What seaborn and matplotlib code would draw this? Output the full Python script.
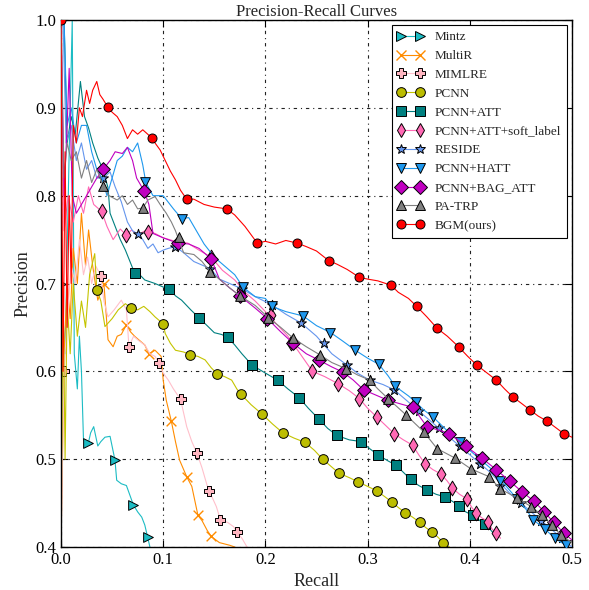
import numpy as np
import pandas as pd
import matplotlib
matplotlib.use("Agg")
import matplotlib.pyplot as plt
from matplotlib.lines import Line2D
import seaborn as sns

# curve data (recall, precision)
mintz_r = [0.0, 0.004, 0.008, 0.011, 0.013, 0.016, 0.018, 0.02, 0.022, 0.0267, 0.029, 0.032, 0.036, 0.039, 0.043, 0.048, 0.0528, 0.0545, 0.059, 0.064, 0.0708, 0.075, 0.079, 0.082, 0.0848, 0.087]
mintz_p = [0.70, 0.62, 0.85, 1.0, 0.62, 0.58, 0.64, 0.60, 0.522, 0.518, 0.53, 0.537, 0.515, 0.52, 0.525, 0.526, 0.499, 0.476, 0.472, 0.47, 0.448, 0.44, 0.434, 0.425, 0.411, 0.40]
mintz_mr = [0.0, 0.0267, 0.0528, 0.0708, 0.0848]
mintz_mp = [0.70, 0.518, 0.499, 0.448, 0.411]

multir_r = [0.0, 0.003, 0.006, 0.009, 0.012, 0.016, 0.02, 0.024, 0.027, 0.031, 0.036, 0.042, 0.046, 0.051, 0.055, 0.059, 0.064, 0.068, 0.072, 0.077, 0.082, 0.086, 0.092, 0.098, 0.1, 0.103, 0.108, 0.112, 0.116, 0.123, 0.128, 0.134, 0.138, 0.143, 0.147, 0.155, 0.165, 0.17]
multir_p = [0.40, 0.62, 0.70, 0.66, 0.74, 0.70, 0.78, 0.72, 0.761, 0.72, 0.681, 0.70, 0.636, 0.628, 0.64, 0.642, 0.653, 0.645, 0.64, 0.635, 0.63, 0.62, 0.624, 0.617, 0.59, 0.567, 0.543, 0.52, 0.499, 0.48, 0.469, 0.436, 0.43, 0.419, 0.412, 0.405, 0.402, 0.40]
multir_mr = [0.042, 0.064, 0.086, 0.108, 0.123, 0.134, 0.147]
multir_mp = [0.70, 0.653, 0.62, 0.543, 0.48, 0.436, 0.412]

mimlre_r = [0.0, 0.003, 0.006, 0.01, 0.014, 0.018, 0.022, 0.026, 0.03, 0.034, 0.0388, 0.042, 0.046, 0.052, 0.059, 0.064, 0.0665, 0.071, 0.076, 0.082, 0.087, 0.092, 0.096, 0.1, 0.105, 0.11, 0.117, 0.123, 0.128, 0.133, 0.138, 0.143, 0.145, 0.152, 0.156, 0.163, 0.169, 0.172, 0.177, 0.182]
mimlre_p = [0.40, 0.60, 0.66, 0.72, 0.70, 0.75, 0.71, 0.73, 0.70, 0.72, 0.709, 0.68, 0.662, 0.67, 0.681, 0.67, 0.628, 0.64, 0.635, 0.63, 0.62, 0.617, 0.609, 0.598, 0.59, 0.58, 0.568, 0.537, 0.52, 0.507, 0.49, 0.47, 0.464, 0.446, 0.431, 0.428, 0.423, 0.417, 0.41, 0.40]
mimlre_mr = [0.003, 0.0388, 0.0665, 0.096, 0.117, 0.133, 0.145, 0.156, 0.172]
mimlre_mp = [0.60, 0.709, 0.628, 0.609, 0.568, 0.507, 0.464, 0.431, 0.417]

pcnn_r = [0.0, 0.002, 0.004, 0.006, 0.009, 0.012, 0.016, 0.02, 0.024, 0.028, 0.033, 0.035, 0.039, 0.043, 0.05, 0.056, 0.063, 0.0685, 0.075, 0.081, 0.087, 0.092, 0.1, 0.102, 0.107, 0.112, 0.12, 0.126, 0.134, 0.141, 0.147, 0.153, 0.16, 0.167, 0.172, 0.176, 0.186, 0.197, 0.207, 0.217, 0.228, 0.239, 0.248, 0.256, 0.264, 0.272, 0.282, 0.291, 0.3, 0.309, 0.316, 0.324, 0.33, 0.337, 0.344, 0.351, 0.357, 0.363, 0.369, 0.374, 0.38]
pcnn_p = [0.40, 0.70, 0.50, 0.68, 0.62, 0.70, 0.64, 0.68, 0.65, 0.71, 0.734, 0.693, 0.68, 0.651, 0.66, 0.67, 0.677, 0.672, 0.67, 0.674, 0.668, 0.662, 0.654, 0.643, 0.632, 0.624, 0.622, 0.619, 0.617, 0.613, 0.604, 0.597, 0.594, 0.59, 0.58, 0.574, 0.562, 0.551, 0.54, 0.53, 0.524, 0.519, 0.51, 0.50, 0.492, 0.484, 0.479, 0.474, 0.469, 0.464, 0.458, 0.451, 0.445, 0.439, 0.434, 0.428, 0.422, 0.417, 0.411, 0.405, 0.40]
pcnn_mr = [0.035, 0.0685, 0.1, 0.126, 0.153, 0.176, 0.197, 0.217, 0.239, 0.256, 0.272, 0.291, 0.309, 0.324, 0.337, 0.351, 0.363, 0.374]
pcnn_mp = [0.693, 0.672, 0.654, 0.619, 0.597, 0.574, 0.551, 0.53, 0.519, 0.50, 0.484, 0.474, 0.464, 0.451, 0.439, 0.428, 0.417, 0.405]

att_r = [0.003, 0.006, 0.01, 0.014, 0.019, 0.023, 0.027, 0.031, 0.036, 0.041, 0.046, 0.048, 0.053, 0.058, 0.063, 0.072, 0.077, 0.082, 0.092, 0.1, 0.106, 0.112, 0.118, 0.127, 0.135, 0.143, 0.15, 0.157, 0.163, 0.17, 0.177, 0.187, 0.2, 0.212, 0.222, 0.233, 0.242, 0.252, 0.261, 0.27, 0.282, 0.294, 0.302, 0.31, 0.32, 0.328, 0.335, 0.342, 0.35, 0.358, 0.367, 0.376, 0.383, 0.389, 0.396, 0.403, 0.41, 0.415, 0.42, 0.425]
att_p = [1.0, 0.86, 0.89, 0.87, 0.93, 0.89, 0.877, 0.86, 0.843, 0.83, 0.809, 0.78, 0.765, 0.75, 0.738, 0.712, 0.71, 0.704, 0.70, 0.696, 0.694, 0.686, 0.681, 0.67, 0.661, 0.652, 0.644, 0.642, 0.639, 0.63, 0.62, 0.607, 0.598, 0.59, 0.58, 0.57, 0.558, 0.546, 0.535, 0.527, 0.522, 0.52, 0.512, 0.505, 0.498, 0.493, 0.485, 0.477, 0.47, 0.465, 0.46, 0.457, 0.452, 0.447, 0.44, 0.436, 0.43, 0.426, 0.42, 0.413]
att_mr = [0.0724, 0.106, 0.135, 0.163, 0.187, 0.212, 0.233, 0.252, 0.27, 0.294, 0.31, 0.328, 0.342, 0.358, 0.376, 0.389, 0.403, 0.415]
att_mp = [0.712, 0.694, 0.661, 0.639, 0.607, 0.59, 0.57, 0.546, 0.527, 0.52, 0.505, 0.493, 0.477, 0.465, 0.457, 0.447, 0.436, 0.426]

soft_r = [0.0, 0.003, 0.007, 0.012, 0.017, 0.022, 0.027, 0.032, 0.0398, 0.045, 0.051, 0.058, 0.064, 0.069, 0.075, 0.082, 0.092, 0.1, 0.112, 0.124, 0.135, 0.147, 0.158, 0.17, 0.18, 0.19, 0.2, 0.21, 0.222, 0.234, 0.246, 0.258, 0.271, 0.282, 0.292, 0.3, 0.309, 0.318, 0.326, 0.335, 0.344, 0.35, 0.356, 0.364, 0.372, 0.378, 0.383, 0.39, 0.397, 0.402, 0.406, 0.412, 0.418, 0.422, 0.426, 0.43]
soft_p = [1.0, 0.76, 0.80, 0.77, 0.80, 0.78, 0.81, 0.79, 0.782, 0.765, 0.75, 0.762, 0.755, 0.761, 0.755, 0.76, 0.757, 0.752, 0.748, 0.746, 0.738, 0.73, 0.715, 0.704, 0.69, 0.68, 0.668, 0.655, 0.64, 0.62, 0.60, 0.594, 0.586, 0.578, 0.569, 0.558, 0.548, 0.538, 0.529, 0.522, 0.516, 0.505, 0.495, 0.488, 0.483, 0.475, 0.467, 0.46, 0.455, 0.445, 0.439, 0.433, 0.429, 0.42, 0.416, 0.41]
soft_mr = [0.0398, 0.064, 0.085, 0.147, 0.176, 0.205, 0.225, 0.246, 0.271, 0.292, 0.309, 0.326, 0.344, 0.356, 0.372, 0.383, 0.397, 0.406, 0.418, 0.426]
soft_mp = [0.782, 0.755, 0.759, 0.73, 0.693, 0.664, 0.632, 0.60, 0.586, 0.569, 0.548, 0.529, 0.516, 0.495, 0.483, 0.467, 0.455, 0.439, 0.429, 0.416]

reside_r = [0.002, 0.005, 0.01, 0.015, 0.02, 0.025, 0.03, 0.035, 0.0414, 0.048, 0.053, 0.059, 0.065, 0.07, 0.0757, 0.08, 0.085, 0.09, 0.095, 0.1, 0.105, 0.112, 0.12, 0.13, 0.146, 0.155, 0.165, 0.177, 0.19, 0.206, 0.22, 0.235, 0.25, 0.265, 0.28, 0.29, 0.302, 0.315, 0.326, 0.34, 0.36, 0.38, 0.4, 0.42, 0.44, 0.46, 0.48, 0.5]
reside_p = [1.0, 0.86, 0.88, 0.84, 0.86, 0.83, 0.84, 0.82, 0.82, 0.827, 0.81, 0.793, 0.77, 0.76, 0.756, 0.75, 0.74, 0.745, 0.735, 0.738, 0.74, 0.742, 0.735, 0.725, 0.717, 0.705, 0.70, 0.694, 0.685, 0.676, 0.665, 0.655, 0.64, 0.62, 0.607, 0.598, 0.59, 0.585, 0.579, 0.565, 0.545, 0.525, 0.505, 0.485, 0.46, 0.44, 0.42, 0.40]
reside_mr = [0.0414, 0.0757, 0.112, 0.146, 0.177, 0.206, 0.235, 0.257, 0.28, 0.302, 0.326, 0.35, 0.37, 0.39, 0.41, 0.43, 0.45, 0.47, 0.49]
reside_mp = [0.82, 0.756, 0.742, 0.717, 0.694, 0.676, 0.655, 0.632, 0.607, 0.59, 0.579, 0.555, 0.535, 0.515, 0.495, 0.47, 0.45, 0.43, 0.41]

hatt_r = [0.003, 0.006, 0.01, 0.015, 0.02, 0.025, 0.03, 0.035, 0.04, 0.045, 0.05, 0.055, 0.06, 0.065, 0.07, 0.075, 0.08, 0.083, 0.09, 0.1, 0.11, 0.118, 0.125, 0.13, 0.14, 0.15, 0.16, 0.17, 0.178, 0.19, 0.2, 0.206, 0.22, 0.237, 0.25, 0.264, 0.275, 0.288, 0.3, 0.311, 0.32, 0.327, 0.34, 0.347, 0.355, 0.364, 0.38, 0.4, 0.42, 0.435, 0.446, 0.455, 0.462, 0.474, 0.483, 0.494, 0.5]
hatt_p = [1.0, 0.88, 0.90, 0.86, 0.88, 0.88, 0.85, 0.83, 0.82, 0.80, 0.82, 0.84, 0.845, 0.855, 0.85, 0.86, 0.835, 0.815, 0.80, 0.80, 0.785, 0.774, 0.775, 0.765, 0.745, 0.73, 0.72, 0.71, 0.696, 0.685, 0.683, 0.674, 0.668, 0.663, 0.652, 0.644, 0.635, 0.624, 0.615, 0.608, 0.595, 0.583, 0.572, 0.565, 0.556, 0.548, 0.53, 0.51, 0.49, 0.47, 0.455, 0.443, 0.431, 0.42, 0.41, 0.402, 0.395]
hatt_mr = [0.0825, 0.118, 0.178, 0.206, 0.237, 0.263, 0.288, 0.311, 0.327, 0.347, 0.364, 0.39, 0.41, 0.43, 0.446, 0.462, 0.474, 0.483, 0.494]
hatt_mp = [0.815, 0.774, 0.696, 0.674, 0.663, 0.644, 0.624, 0.608, 0.583, 0.565, 0.548, 0.52, 0.50, 0.475, 0.455, 0.431, 0.42, 0.41, 0.402]

bag_r = [0.0, 0.003, 0.006, 0.008, 0.011, 0.015, 0.02, 0.025, 0.03, 0.035, 0.0414, 0.048, 0.053, 0.06, 0.065, 0.07, 0.074, 0.0815, 0.086, 0.09, 0.1, 0.114, 0.125, 0.135, 0.147, 0.155, 0.165, 0.175, 0.19, 0.202, 0.215, 0.227, 0.24, 0.252, 0.265, 0.276, 0.286, 0.296, 0.31, 0.32, 0.332, 0.344, 0.35, 0.358, 0.37, 0.38, 0.396, 0.412, 0.426, 0.439, 0.451, 0.463, 0.473, 0.482, 0.492, 0.5]
bag_p = [1.0, 0.80, 0.88, 0.945, 0.80, 0.78, 0.79, 0.80, 0.81, 0.82, 0.83, 0.84, 0.85, 0.848, 0.855, 0.84, 0.82, 0.805, 0.79, 0.757, 0.752, 0.746, 0.745, 0.74, 0.728, 0.705, 0.695, 0.686, 0.672, 0.66, 0.645, 0.632, 0.62, 0.613, 0.605, 0.599, 0.59, 0.579, 0.572, 0.567, 0.563, 0.559, 0.55, 0.537, 0.533, 0.529, 0.515, 0.501, 0.488, 0.475, 0.463, 0.452, 0.44, 0.428, 0.416, 0.408]
bag_mr = [0.0414, 0.0815, 0.114, 0.147, 0.175, 0.202, 0.227, 0.252, 0.276, 0.296, 0.32, 0.344, 0.358, 0.38, 0.396, 0.412, 0.426, 0.439, 0.451, 0.463, 0.473, 0.482, 0.492]
bag_mp = [0.83, 0.805, 0.746, 0.728, 0.686, 0.66, 0.632, 0.613, 0.599, 0.579, 0.567, 0.559, 0.537, 0.529, 0.515, 0.501, 0.488, 0.475, 0.463, 0.452, 0.44, 0.428, 0.416]

trp_r = [0.0, 0.003, 0.006, 0.01, 0.015, 0.02, 0.025, 0.03, 0.035, 0.0414, 0.047, 0.055, 0.06, 0.065, 0.07, 0.075, 0.08, 0.085, 0.092, 0.097, 0.103, 0.108, 0.112, 0.12, 0.13, 0.138, 0.146, 0.155, 0.165, 0.175, 0.19, 0.203, 0.215, 0.227, 0.24, 0.253, 0.265, 0.279, 0.29, 0.302, 0.31, 0.32, 0.338, 0.355, 0.368, 0.386, 0.401, 0.419, 0.43, 0.446, 0.46, 0.471, 0.48, 0.489, 0.5]
trp_p = [1.0, 0.82, 0.86, 0.84, 0.85, 0.82, 0.84, 0.815, 0.83, 0.811, 0.80, 0.795, 0.80, 0.79, 0.795, 0.785, 0.786, 0.795, 0.799, 0.79, 0.78, 0.77, 0.76, 0.735, 0.733, 0.725, 0.713, 0.705, 0.695, 0.686, 0.675, 0.661, 0.65, 0.638, 0.628, 0.619, 0.61, 0.603, 0.596, 0.59, 0.58, 0.569, 0.55, 0.531, 0.512, 0.501, 0.489, 0.48, 0.466, 0.456, 0.446, 0.436, 0.425, 0.414, 0.405]
trp_mr = [0.0414, 0.08, 0.115, 0.146, 0.175, 0.203, 0.227, 0.253, 0.279, 0.302, 0.32, 0.338, 0.355, 0.368, 0.386, 0.401, 0.419, 0.43, 0.446, 0.46, 0.471, 0.48, 0.489]
trp_mp = [0.811, 0.786, 0.753, 0.713, 0.686, 0.661, 0.638, 0.619, 0.603, 0.59, 0.569, 0.55, 0.531, 0.512, 0.501, 0.489, 0.48, 0.466, 0.456, 0.446, 0.436, 0.425, 0.414]

bgm_r = [0.0, 0.002, 0.004, 0.006, 0.008, 0.01, 0.012, 0.015, 0.018, 0.021, 0.025, 0.028, 0.031, 0.035, 0.038, 0.041, 0.0457, 0.05, 0.055, 0.06, 0.065, 0.07, 0.075, 0.08, 0.0887, 0.092, 0.097, 0.102, 0.107, 0.112, 0.117, 0.123, 0.13, 0.14, 0.15, 0.162, 0.17, 0.18, 0.192, 0.2, 0.21, 0.22, 0.231, 0.24, 0.25, 0.262, 0.27, 0.28, 0.292, 0.3, 0.31, 0.323, 0.33, 0.34, 0.348, 0.358, 0.368, 0.378, 0.389, 0.398, 0.407, 0.417, 0.426, 0.434, 0.442, 0.45, 0.459, 0.467, 0.476, 0.484, 0.492, 0.5]
bgm_p = [1.0, 0.60, 0.85, 0.65, 0.80, 0.70, 0.88, 0.86, 0.90, 0.89, 0.92, 0.905, 0.92, 0.93, 0.915, 0.91, 0.901, 0.895, 0.89, 0.88, 0.865, 0.875, 0.87, 0.875, 0.866, 0.86, 0.852, 0.84, 0.828, 0.818, 0.806, 0.796, 0.796, 0.79, 0.787, 0.785, 0.778, 0.765, 0.746, 0.748, 0.745, 0.749, 0.746, 0.742, 0.737, 0.726, 0.722, 0.716, 0.707, 0.705, 0.703, 0.698, 0.69, 0.683, 0.674, 0.662, 0.649, 0.64, 0.628, 0.617, 0.607, 0.598, 0.59, 0.58, 0.571, 0.564, 0.556, 0.549, 0.543, 0.536, 0.529, 0.525]
bgm_mr = [0.0, 0.0457, 0.0887, 0.123, 0.162, 0.192, 0.231, 0.262, 0.292, 0.323, 0.348, 0.368, 0.389, 0.407, 0.426, 0.442, 0.459, 0.476, 0.492]
bgm_mp = [1.0, 0.901, 0.866, 0.796, 0.785, 0.746, 0.746, 0.726, 0.707, 0.698, 0.674, 0.649, 0.628, 0.607, 0.59, 0.571, 0.556, 0.543, 0.529]

names = ["Mintz", "MultiR", "MIMLRE", "PCNN", "PCNN+ATT", "PCNN+ATT+soft_label",
         "RESIDE", "PCNN+HATT", "PCNN+BAG_ATT", "PA-TRP", "BGM(ours)"]
curves = [(mintz_r, mintz_p, mintz_mr, mintz_mp),
          (multir_r, multir_p, multir_mr, multir_mp),
          (mimlre_r, mimlre_p, mimlre_mr, mimlre_mp),
          (pcnn_r, pcnn_p, pcnn_mr, pcnn_mp),
          (att_r, att_p, att_mr, att_mp),
          (soft_r, soft_p, soft_mr, soft_mp),
          (reside_r, reside_p, reside_mr, reside_mp),
          (hatt_r, hatt_p, hatt_mr, hatt_mp),
          (bag_r, bag_p, bag_mr, bag_mp),
          (trp_r, trp_p, trp_mr, trp_mp),
          (bgm_r, bgm_p, bgm_mr, bgm_mp)]

colors = ["#1cbcc4", "#ff8c00", "#ffb6c1", "#bcbd00", "#008080", "#ff69b4",
          "#6495ed", "#1e98ee", "#c000c0", "#808080", "#ff0000"]
line_colors = ["#1cbcc4", "#ff8c00", "#ffc0cb", "#c4c400", "#008080", "#ff69b4",
               "#6495ed", "#1e98ee", "#c000c0", "#808080", "#ff0000"]
markers = [">", "x", "P", "o", "s", "d", "*", "v", "D", "^", "o"]
msizes = [7, 7, 7, 7, 7, 7.5, 7.5, 7, 7, 7, 6.5]

sns.set_style("ticks")
plt.rcParams["font.family"] = ["Liberation Serif", "DejaVu Serif"]
plt.rcParams["xtick.direction"] = "in"
plt.rcParams["ytick.direction"] = "in"
plt.rcParams["xtick.top"] = True
plt.rcParams["ytick.right"] = True

fig = plt.figure(figsize=(5.89, 5.90), dpi=100)
ax = fig.add_axes([61 / 589, 1 - 547 / 590, (572 - 61) / 589, (547 - 20) / 590])

handles = []
for i, (name, (r, p, mr, mp)) in enumerate(zip(names, curves)):
    z = 2 + i * 0.1
    sns.lineplot(x=r, y=p, ax=ax, color=line_colors[i], lw=0.8, sort=False,
                 estimator=None, zorder=z, legend=False)
    is_x = markers[i] == "x"
    edge = colors[i] if is_x else "k"
    sns.scatterplot(x=mr, y=mp, ax=ax, marker=markers[i], s=msizes[i] ** 2,
                    color=colors[i], edgecolor=edge, linewidth=1.0 if is_x else 0.7,
                    zorder=z + 0.05, legend=False)
    handles.append(Line2D([], [], color=line_colors[i], lw=0.8, marker=markers[i],
                          markersize=msizes[i], markerfacecolor=colors[i],
                          markeredgecolor=edge, markeredgewidth=1.0 if is_x else 0.7,
                          label=name))

ax.set_xlim(0.0, 0.5)
ax.set_ylim(0.4, 1.0)
ax.set_xticks(np.arange(0.0, 0.51, 0.1))
ax.set_yticks(np.arange(0.4, 1.01, 0.1))
ax.xaxis.set_major_formatter(matplotlib.ticker.FormatStrFormatter("%.1f"))
ax.yaxis.set_major_formatter(matplotlib.ticker.FormatStrFormatter("%.1f"))
ax.tick_params(labelsize=12, length=5, width=0.8, colors="k")
ax.grid(True, color="#222222", linestyle=(0, (3, 3.5, 1, 3.5)), linewidth=0.8)
for sp in ax.spines.values():
    sp.set_color("k")
    sp.set_linewidth(1.0)

ax.set_xlabel("Recall", fontsize=13, labelpad=4)
ax.set_ylabel("Precision", fontsize=13, labelpad=3)
ax.set_title("Precision-Recall Curves", fontsize=12, pad=3)

leg = ax.legend(handles=handles, loc="upper right", numpoints=2, fontsize=9.5,
                frameon=True, fancybox=False, edgecolor="k", framealpha=1.0,
                borderpad=0.45, labelspacing=0.5, handlelength=2.0, handletextpad=0.8,
                borderaxespad=0.4)
leg.get_frame().set_linewidth(0.8)
leg.set_zorder(10)

fig.savefig("out.png", dpi=100)
